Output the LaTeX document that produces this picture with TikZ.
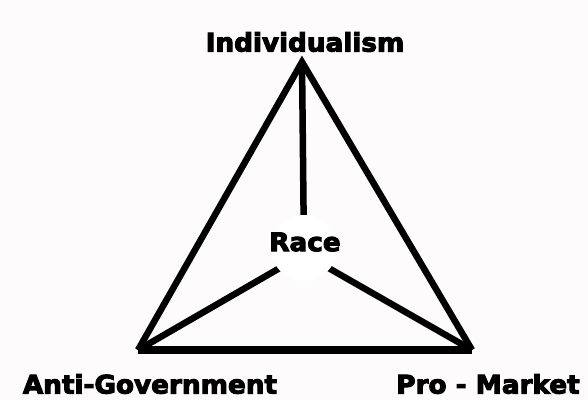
\documentclass[tikz,border=0pt]{standalone}
\usepackage{fontspec}
\newfontfamily\lblfont{DejaVu Sans}[FakeStretch=1.03, BoldFeatures={FakeBold=4}]
\definecolor{bgcol}{RGB}{253,251,252}
\tikzset{
  lbl/.style={font=\lblfont\bfseries\fontsize{25.5}{29}\selectfont, text=black, inner sep=0pt},
  edge/.style={line width=6.5pt, draw=black, miter limit=20},
  spoke/.style={line width=6.5pt, draw=black}
}
\begin{document}
\begin{tikzpicture}[x=1pt,y=-1pt]
\fill[bgcol] (0,0) rectangle (588,400);
\useasboundingbox (0,0) rectangle (588,400);
\coordinate (T) at (302,62);
\coordinate (L) at (138,350);
\coordinate (R) at (472,350);
\coordinate (C) at (304,254);
\draw[spoke] (T) -- (C);
\draw[spoke] (L) -- (C);
\draw[spoke] (R) -- (C);
\draw[edge, line join=miter] (L) -- (T) -- (R);
\draw[edge, line width=8.5pt] (L) -- (R);
\node[circle, fill=white, minimum size=66pt, inner sep=0pt] (W) at (304,248) {};
\node[lbl] (race) at (305,242) {Race};
\node[lbl] (ind) at (305,42) {Individualism};
\node[lbl] (anti) at (150,384) {Anti-Government};
\node[lbl] (pro) at (488,384) {Pro - Market};
\end{tikzpicture}
\end{document}
